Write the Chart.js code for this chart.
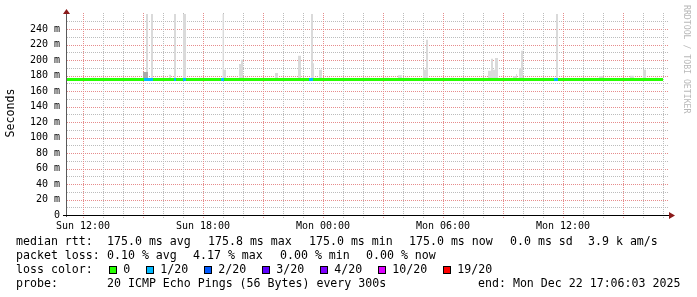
<!DOCTYPE html>
<html><head><meta charset="utf-8">
<script src="https://cdn.jsdelivr.net/npm/chart.js@4"></script>
<style>
html,body{margin:0;padding:0;background:#fff;}
#wrap{position:relative;width:697px;height:297px;overflow:hidden;background:#fff;}
canvas{position:absolute;left:0;top:0;}
.t{position:absolute;font:11.6px "DejaVu Sans Mono",monospace;color:#000;white-space:pre;line-height:14px;}
.box{position:absolute;width:6px;height:6px;border:1px solid #000;box-sizing:content-box;}
</style></head><body>
<div id="wrap"><canvas id="c" width="697" height="297"></canvas><div id="leg"></div></div>
<script>
// ---- data (time in hours since Sun 00:00, values in ms) ----
const startHour = 11.2;
const endHour = 41.2;
const tickHours = [12, 18, 24, 30, 36];
const tickLabels = ["Sun 12:00", "Sun 18:00", "Mon 00:00", "Mon 06:00", "Mon 12:00"];
const yTickValues = [0, 20, 40, 60, 80, 100, 120, 140, 160, 180, 200, 220, 240];
const yTickLabels = ["0", "20 m", "40 m", "60 m", "80 m", "100 m", "120 m", "140 m", "160 m", "180 m", "200 m", "220 m", "240 m"];
const yMax = 259.4;

const medianTimes = [11.2, 41.0];
const medianValues = [175, 175];

const lossStart = [15.05, 16.55, 17.0, 18.9, 23.3, 35.55];
const lossEnd   = [15.5, 16.65, 17.15, 19.05, 23.5, 35.75];

const smokeStart = [12.45, 12.85, 13.1, 14.4, 15.15, 15.4, 16.3, 16.55, 17.0, 17.8, 18.98, 19.05, 19.8, 19.9, 20.1, 21.6, 22.75, 23.4, 23.5, 23.8, 24.2, 26.1, 27.1, 27.75, 28.1, 29.0, 29.15, 30.4, 32.25, 32.4, 32.5, 32.6, 33.5, 33.65, 33.8, 33.9, 35.65, 37.8, 39.35, 40.0, 40.6];
const smokeEnd   = [12.65, 12.95, 13.25, 14.65, 15.25, 15.5, 16.4, 16.65, 17.15, 17.95, 19.05, 19.15, 19.9, 20.0, 20.25, 21.75, 22.9, 23.5, 23.55, 23.95, 24.35, 26.35, 27.3, 27.95, 28.3, 29.15, 29.25, 30.55, 32.4, 32.5, 32.6, 32.75, 33.65, 33.7, 33.9, 34.0, 35.75, 38.0, 39.55, 40.15, 40.75];
const smokeHigh  = [177, 177, 177, 177, 300, 300, 181, 300, 300, 177, 300, 187.5, 194.8, 200.4, 177, 183.2, 205.5, 300, 196, 187.5, 177, 177, 177, 180.2, 177, 187.5, 226.2, 177, 186.2, 201.7, 187.5, 202.6, 179, 182, 189.7, 212, 300, 179, 179.8, 187.5, 177];

const darkStart = [15.0];
const darkEnd   = [15.25];
const darkHigh  = [184.5];

const lossLabels = ["0", "1/20", "2/20", "3/20", "4/20", "10/20", "19/20"];
const lossColors = ["#26ff00", "#00b8ff", "#0059ff", "#5e00ff", "#7e00ff", "#dd00ff", "#ff0000"];

// ---- build datasets ----
function smokePoints(s, e, h) {
  const pts = [{x: startHour, y: 175}];
  for (let i = 0; i < s.length; i++) {
    pts.push({x: s[i], y: 175}, {x: s[i], y: h[i]}, {x: e[i], y: h[i]}, {x: e[i], y: 175});
  }
  pts.push({x: endHour, y: 175});
  return pts;
}
const medianPts = medianTimes.map((t, i) => ({x: t, y: medianValues[i]}));
const lossPts = [];
for (let i = 0; i < lossStart.length; i++) {
  lossPts.push({x: lossStart[i], y: 175}, {x: lossEnd[i], y: 175}, {x: lossEnd[i], y: null});
}

const RED = '#e68c8c', GREY = '#bcbcbc';

const gridPlugin = {
  id: 'rrdGrid',
  beforeDatasetsDraw(chart) {
    const c = chart.ctx, a = chart.chartArea, xs = chart.scales.x, ys = chart.scales.y;
    c.save();
    for (let v = 10; v <= 250; v += 10) {
      const py = Math.round(ys.getPixelForValue(v));
      c.fillStyle = v % 20 === 0 ? RED : GREY;
      for (let x = Math.round(a.left); x <= Math.round(a.right) + 1; x += 2) c.fillRect(x, py, 1, 1);
    }
    for (let h = Math.ceil(startHour); h <= endHour; h++) {
      const px = Math.round(xs.getPixelForValue(h));
      c.fillStyle = h % 3 === 0 ? RED : GREY;
      for (let y = Math.round(a.top) - 1; y <= Math.round(a.bottom) + 2; y += 2) c.fillRect(px, y, 1, 1);
    }
    c.restore();
  }
};

const axesPlugin = {
  id: 'rrdAxes',
  afterDraw(chart) {
    const c = chart.ctx, a = chart.chartArea;
    c.save();
    c.strokeStyle = '#5a5a5a'; c.lineWidth = 1;
    c.beginPath(); c.moveTo(a.left - 0.5, a.bottom + 2); c.lineTo(a.left - 0.5, a.top - 1); c.stroke();
    c.strokeStyle = '#000';
    c.beginPath(); c.moveTo(a.left - 4, a.bottom + 0.5); c.lineTo(a.right + 2, a.bottom + 0.5); c.stroke();
    c.fillStyle = '#8a1a1a';
    c.beginPath(); c.moveTo(a.left - 0.5, a.top - 5); c.lineTo(a.left - 4, a.top); c.lineTo(a.left + 3, a.top); c.closePath(); c.fill();
    c.beginPath(); c.moveTo(a.right + 8, a.bottom + 0.5); c.lineTo(a.right + 2, a.bottom - 3); c.lineTo(a.right + 2, a.bottom + 4); c.closePath(); c.fill();
    c.fillStyle = '#000';
    c.font = '11.6px "DejaVu Sans Mono", monospace';
    c.textAlign = 'center'; c.textBaseline = 'middle';
    c.translate(11, 113);
    c.rotate(-Math.PI / 2);
    c.fillText('Seconds', 0, 0);
    c.restore();
    c.save();
    c.fillStyle = '#b8b8b8';
    c.font = '8.2px "DejaVu Sans Mono", monospace';
    c.textAlign = 'left'; c.textBaseline = 'middle';
    c.translate(686, 5);
    c.rotate(Math.PI / 2);
    c.fillText('RRDTOOL / TOBI OETIKER', 0, 0);
    c.restore();
  }
};

new Chart(document.getElementById('c'), {
  type: 'line',
  data: {
    datasets: [
      {label: 'loss', data: lossPts, borderColor: lossColors[1], borderWidth: 3, pointRadius: 0, spanGaps: false, fill: false, order: 0, borderCapStyle: 'butt'},
      {label: 'median', data: medianPts, borderColor: lossColors[0], borderWidth: 3, pointRadius: 0, fill: false, order: 1, borderCapStyle: 'butt'},
      {label: 'smokeDark', data: smokePoints(darkStart, darkEnd, darkHigh), borderWidth: 0, pointRadius: 0, fill: {value: 175}, backgroundColor: '#a9a9a9', order: 2},
      {label: 'smoke', data: smokePoints(smokeStart, smokeEnd, smokeHigh), borderWidth: 0, pointRadius: 0, fill: {value: 175}, backgroundColor: '#dadada', order: 3}
    ]
  },
  options: {
    responsive: false,
    animation: false,
    events: [],
    devicePixelRatio: 1,
    layout: {padding: {top: 14, right: 30, left: 0, bottom: 0}},
    plugins: {legend: {display: false}, tooltip: {enabled: false}},
    scales: {
      x: {
        type: 'linear', min: startHour, max: endHour,
        afterBuildTicks(scale) { scale.ticks = tickHours.map(v => ({value: v})); },
        afterFit(scale) { scale.height = 82; },
        grid: {display: false, drawTicks: false},
        border: {display: false},
        ticks: {
          autoSkip: false, maxRotation: 0, padding: 5, color: '#000',
          font: {family: '"DejaVu Sans Mono", monospace', size: 10},
          callback: v => { const i = tickHours.indexOf(v); return i >= 0 ? tickLabels[i] : ''; }
        }
      },
      y: {
        type: 'linear', min: 0, max: yMax,
        afterBuildTicks(scale) { scale.ticks = yTickValues.map(v => ({value: v})); },
        afterFit(scale) { scale.width = 67; },
        grid: {display: false, drawTicks: false},
        border: {display: false},
        ticks: {
          padding: 7, color: '#000',
          font: {family: '"DejaVu Sans Mono", monospace', size: 10},
          callback: v => { const i = yTickValues.indexOf(v); return i >= 0 ? yTickLabels[i] : ''; }
        }
      }
    }
  },
  plugins: [gridPlugin, axesPlugin]
});

// ---- legend (text) ----
const legendRows = [
  [[16, "median rtt:"], [107, "175.0 ms avg"], [208, "175.8 ms max"], [309, "175.0 ms min"], [409, "175.0 ms now"], [510, "0.0 ms sd"], [588, "3.9 k am/s"]],
  [[16, "packet loss:"], [107, "0.10 % avg"], [193, "4.17 % max"], [280, "0.00 % min"], [366, "0.00 % now"]],
  [[16, "loss color:"]],
  [[16, "probe:"], [107, "20 ICMP Echo Pings (56 Bytes) every 300s"], [478, "end: Mon Dec 22 17:06:03 2025"]]
];
const rowY = [241.3, 255.3, 269.3, 283.3];
const boxX = [108.5, 145.5, 203.5, 261.5, 319.5, 377.5, 442.5];
const leg = document.getElementById('leg');
legendRows.forEach((row, r) => row.forEach(([x, s]) => {
  const d = document.createElement('div'); d.className = 't';
  d.style.left = x + 'px'; d.style.top = (rowY[r] - 7) + 'px'; d.textContent = s; leg.appendChild(d);
}));
lossLabels.forEach((lab, i) => {
  const b = document.createElement('div'); b.className = 'box';
  b.style.left = Math.round(boxX[i]) + 'px'; b.style.top = '266px'; b.style.background = lossColors[i]; leg.appendChild(b);
  const d = document.createElement('div'); d.className = 't';
  d.style.left = (boxX[i] + 14.8) + 'px'; d.style.top = (rowY[2] - 7) + 'px'; d.textContent = lab; leg.appendChild(d);
});
</script>
</body></html>
